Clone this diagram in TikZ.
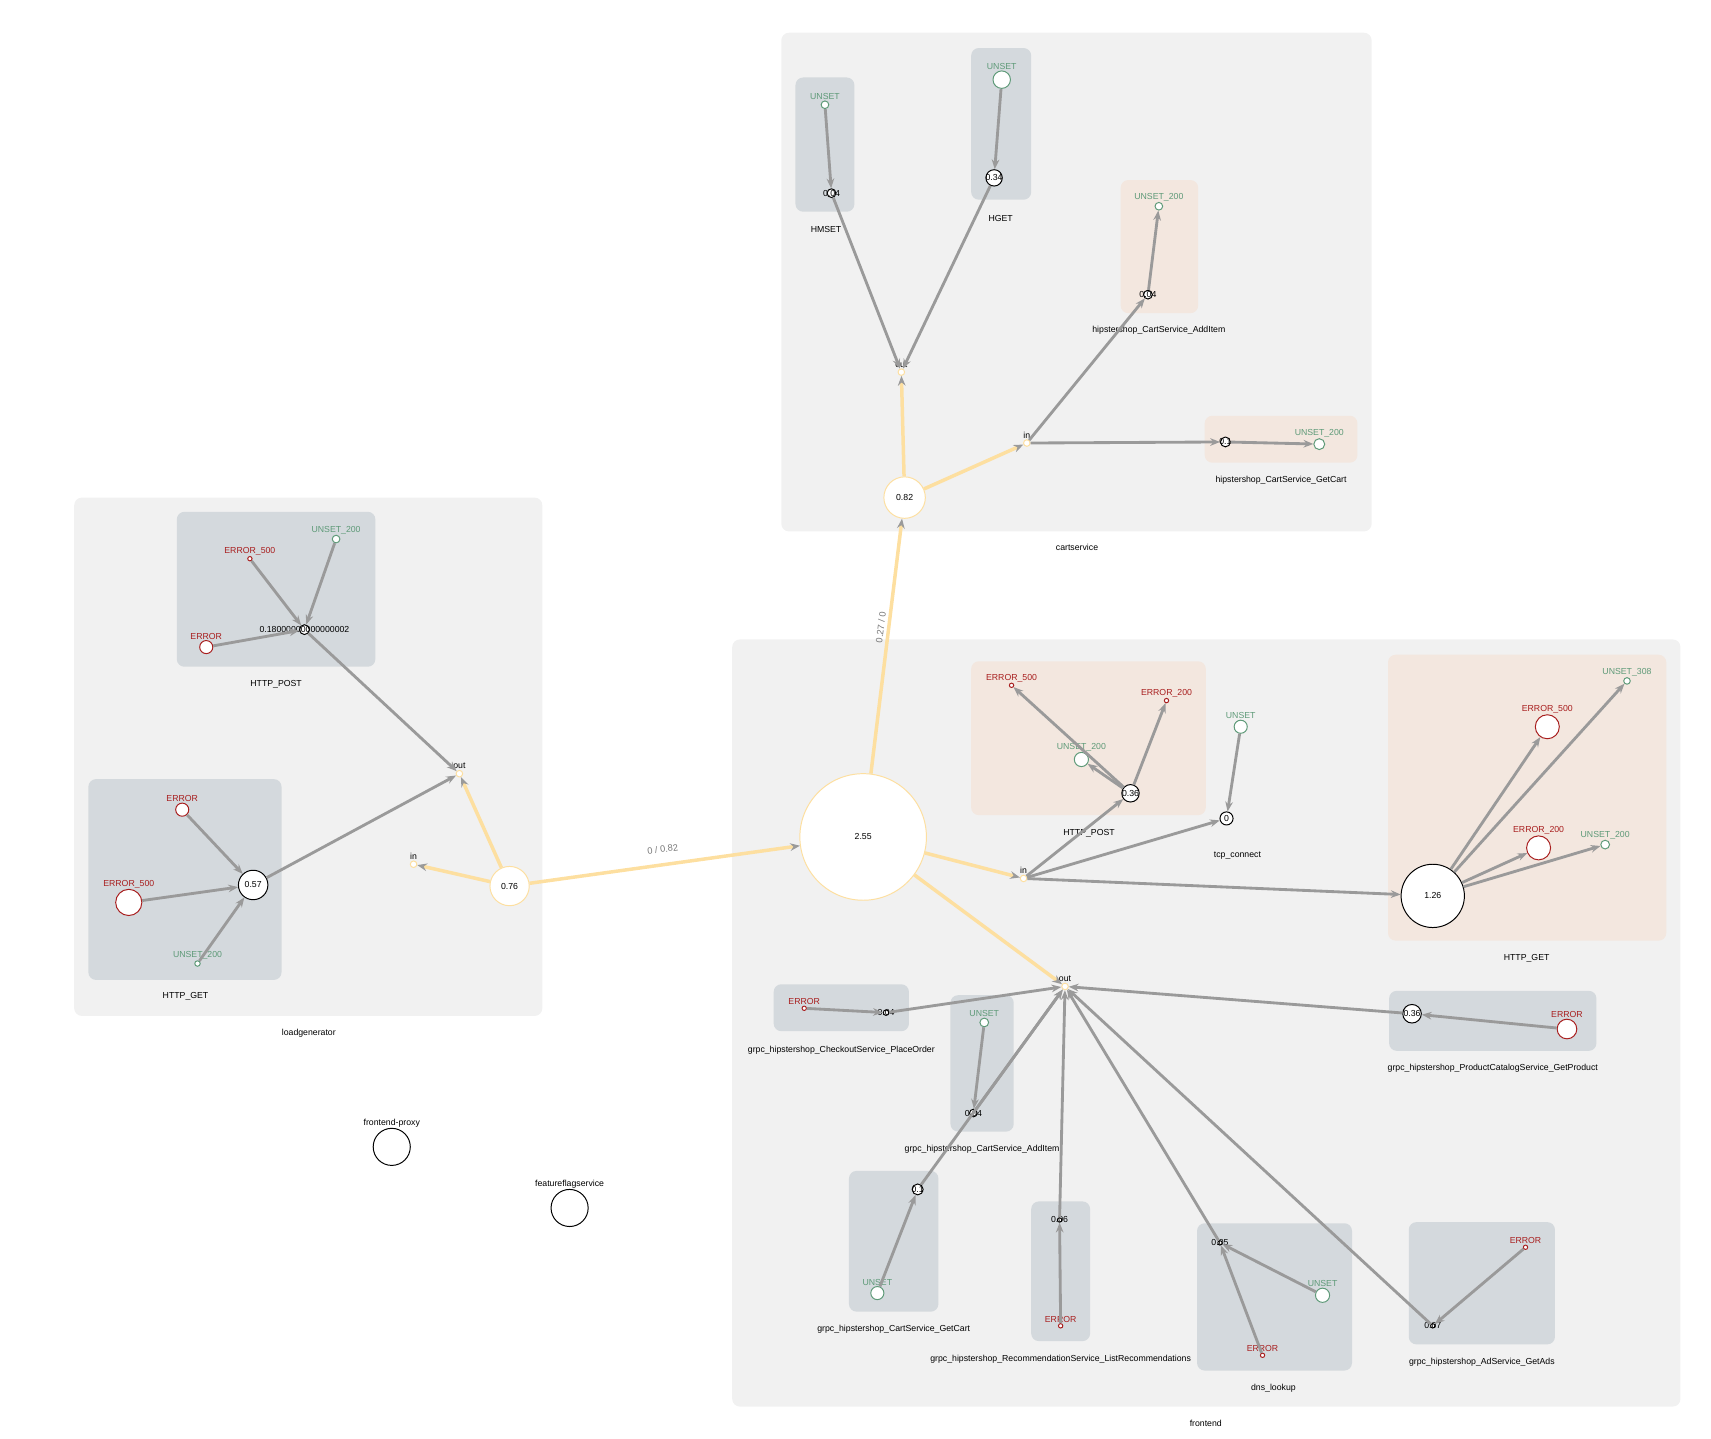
\documentclass[tikz,border=0pt]{standalone}
\usepackage{fontspec}
\setmainfont{Liberation Sans}
\usetikzlibrary{arrows.meta}
\definecolor{grpbg}{HTML}{F1F1F1}
\definecolor{gboxc}{HTML}{D4D9DD}
\definecolor{pboxc}{HTML}{F3E7DF}
\definecolor{edgec}{HTML}{9A9A9A}
\definecolor{ylw}{HTML}{FDDFA0}
\definecolor{okg}{HTML}{5E9A78}
\definecolor{errr}{HTML}{A81E1E}
\definecolor{elbl}{HTML}{777777}
\begin{document}
\begin{tikzpicture}[x=1pt,y=-1pt, font=\fontsize{8}{9.6}\selectfont,
 grp/.style={fill=grpbg, rounded corners=7pt},
 gbx/.style={fill=gboxc, rounded corners=7pt},
 pbx/.style={fill=pboxc, rounded corners=7pt},
 vn/.style={circle, draw=black, fill=white, line width=0.9pt, inner sep=0pt, minimum size=#1},
 okn/.style={circle, draw=okg, fill=white, line width=0.9pt, inner sep=0pt, minimum size=#1},
 ern/.style={circle, draw=errr, fill=white, line width=0.9pt, inner sep=0pt, minimum size=#1},
 prt/.style={circle, draw=ylw, fill=white, line width=0.9pt, inner sep=0pt, minimum size=6pt},
 bign/.style={circle, draw=ylw, fill=white, line width=0.9pt, inner sep=0pt, minimum size=#1},
 lg/.style={text=okg, inner sep=0.6pt},
 lr/.style={text=errr, inner sep=0.6pt},
 lk/.style={text=black, inner sep=0.6pt},
 vt/.style={text=black, inner sep=0pt},
 blbl/.style={text=black, inner sep=0pt},
 ge/.style={draw=edgec, line width=2.6pt, -{Stealth[length=9pt,width=7pt,inset=3pt,color=edgec]}},
 ye/.style={draw=ylw, line width=3.2pt, -{Stealth[length=9pt,width=7pt,inset=3pt,color=edgec]}},
 el/.style={text=elbl, font=\fontsize{8.5}{10}\selectfont, inner sep=1.5pt},
]
\useasboundingbox (0,0) rectangle (1568,1318);

% ---------- group boxes ----------
\path[grp] (716,30) rectangle (1257,487);
\path[grp] (68,456) rectangle (497,931);
\path[grp] (671,586) rectangle (1540,1289);

% cartservice sub boxes
\path[gbx] (729,71) rectangle (783,194);
\path[gbx] (890,44) rectangle (945,183);
\path[pbx] (1027,165) rectangle (1098,287);
\path[pbx] (1104,381) rectangle (1244,424);
% loadgenerator sub boxes
\path[gbx] (162,469) rectangle (344,611);
\path[gbx] (81,714) rectangle (258,898);
% frontend sub boxes
\path[pbx] (890,606) rectangle (1105,747);
\path[pbx] (1272,600) rectangle (1527,862);
\path[gbx] (709,902) rectangle (833,945);
\path[gbx] (871,912) rectangle (929,1037);
\path[gbx] (778,1073) rectangle (860,1202);
\path[gbx] (945,1101) rectangle (999,1229);
\path[gbx] (1097,1121) rectangle (1239,1256);
\path[gbx] (1291,1120) rectangle (1425,1232);
\path[gbx] (1273,908) rectangle (1463,963);

% ---------- box labels ----------
\node[blbl] (tHMSET) at (757,210) {HMSET};
\node[blbl] (tHGET) at (917,200) {HGET};
\node[blbl] (tCAI) at (1062,303) {hipstershop\_CartService\_AddItem};
\node[blbl] (tCGC) at (1174,440) {hipstershop\_CartService\_GetCart};
\node[blbl] (tcart) at (987,502) {cartservice};
\node[blbl] (tLPOST) at (253,627) {HTTP\_POST};
\node[blbl] (tLGET) at (170,913) {HTTP\_GET};
\node[blbl] (tload) at (283,947) {loadgenerator};
\node[blbl] (tFPOST) at (998,764) {HTTP\_POST};
\node[blbl] (tTCP) at (1134,784) {tcp\_connect};
\node[blbl] (tFGET) at (1399,878) {HTTP\_GET};
\node[blbl] (tCO) at (771,962) {grpc\_hipstershop\_CheckoutService\_PlaceOrder};
\node[blbl] (tFAI) at (900,1053) {grpc\_hipstershop\_CartService\_AddItem};
\node[blbl] (tFGC) at (819,1218) {grpc\_hipstershop\_CartService\_GetCart};
\node[blbl] (tREC) at (972,1246) {grpc\_hipstershop\_RecommendationService\_ListRecommendations};
\node[blbl] (tDNS) at (1167,1272) {dns\_lookup};
\node[blbl] (tAD) at (1358,1248) {grpc\_hipstershop\_AdService\_GetAds};
\node[blbl] (tPC) at (1368,979) {grpc\_hipstershop\_ProductCatalogService\_GetProduct};
\node[blbl] (tfront) at (1105,1304) {frontend};

% ---------- cartservice nodes ----------
\node[okn=7pt, label={[lg]above:UNSET}] (cHMu) at (756,96) {};
\node[vn=8pt, label={[vt]center:0.04}] (cHMv) at (762,177) {};
\node[okn=16pt, label={[lg]above:UNSET}] (cHGu) at (918,73) {};
\node[vn=15pt, label={[vt]center:0.34}] (cHGv) at (911,163) {};
\node[okn=7pt, label={[lg]above:UNSET\_200}] (cAIu) at (1062,189) {};
\node[vn=8pt, label={[vt]center:0.04}] (cAIv) at (1052,270) {};
\node[vn=9pt, label={[vt]center:0.1}] (cGCv) at (1123,405) {};
\node[okn=10pt, label={[lg]above:UNSET\_200}] (cGCu) at (1209,407) {};
\node[prt, label={[lk]above:out}] (cout) at (826,341) {};
\node[prt, label={[lk]above:in}] (cin) at (941,406) {};
\node[bign=38pt] (c082) at (829,456) {0.82};

% ---------- loadgenerator nodes ----------
\node[ern=4pt, label={[lr]above:ERROR\_500}] (lPe5) at (229,512) {};
\node[okn=7pt, label={[lg]above:UNSET\_200}] (lPu) at (308,494) {};
\node[ern=12pt, label={[lr]above:ERROR}] (lPe) at (189,593) {};
\node[vn=9pt, label={[vt]center:0.18000000000000002}] (lPv) at (279,577) {};
\node[ern=12pt, label={[lr]above:ERROR}] (lGe) at (167,742) {};
\node[ern=24pt, label={[lr]above:ERROR\_500}] (lGe5) at (118,827) {};
\node[okn=5pt, label={[lg]above:UNSET\_200}] (lGu) at (181,883) {};
\node[vn=27pt] (lGv) at (232,811) {0.57};
\node[prt, label={[lk]above:out}] (lout) at (421,709) {};
\node[prt, label={[lk]above:in}] (lin) at (379,792) {};
\node[bign=36pt] (l076) at (467,812) {0.76};

% ---------- frontend nodes ----------
\node[bign=116pt] (f255) at (791,767) {2.55};
\node[prt, label={[lk]above:in}] (fin) at (938,805) {};
\node[prt, label={[lk]above:out}] (fout) at (976,904) {};
\node[ern=4pt, label={[lr]above:ERROR\_500}] (fPe5) at (927,628) {};
\node[ern=4pt, label={[lr]above:ERROR\_200}] (fPe2) at (1069,642) {};
\node[okn=13pt, label={[lg]above:UNSET\_200}] (fPu) at (991,696) {};
\node[vn=16pt, label={[vt]center:0.36}] (fPv) at (1036,727) {};
\node[okn=12pt, label={[lg]above:UNSET}] (fTu) at (1137,666) {};
\node[vn=12pt] (fTv) at (1124,750) {0};
\node[vn=58pt] (fGv) at (1313,821) {1.26};
\node[ern=22pt, label={[lr]above:ERROR\_500}] (fGe5) at (1418,666) {};
\node[okn=6pt, label={[lg]above:UNSET\_308}] (fGu3) at (1491,624) {};
\node[ern=22pt, label={[lr]above:ERROR\_200}] (fGe2) at (1410,777) {};
\node[okn=8pt, label={[lg]above:UNSET\_200}] (fGu2) at (1471,774) {};
\node[ern=4pt, label={[lr]above:ERROR}] (fCOe) at (737,924) {};
\node[vn=5pt, label={[vt]center:0.04}] (fCOv) at (812,928) {};
\node[okn=8pt, label={[lg]above:UNSET}] (fAIu) at (902,937) {};
\node[vn=7pt, label={[vt]center:0.04}] (fAIv) at (892,1020) {};
\node[vn=10pt, label={[vt]center:0.1}] (fGCv) at (841,1090) {};
\node[okn=12pt, label={[lg]above:UNSET}] (fGCu) at (804,1185) {};
\node[vn=4pt, label={[vt]center:0.06}] (fRv) at (971,1118) {};
\node[ern=4pt, label={[lr]above:ERROR}] (fRe) at (972,1215) {};
\node[vn=4pt, label={[vt]center:0.05}] (fDv) at (1118,1139) {};
\node[okn=13pt, label={[lg]above:UNSET}] (fDu) at (1212,1187) {};
\node[ern=4pt, label={[lr]above:ERROR}] (fDe) at (1157,1242) {};
\node[vn=4pt, label={[vt]center:0.07}] (fAv) at (1313,1215) {};
\node[ern=4pt, label={[lr]above:ERROR}] (fAe) at (1398,1143) {};
\node[vn=17pt, label={[vt]center:0.36}] (fPCv) at (1294,929) {};
\node[ern=18pt, label={[lr]above:ERROR}] (fPCe) at (1436,943) {};

% ---------- standalone services ----------
\node[vn=34pt, label={[lk]above:frontend-proxy}] (fproxy) at (359,1051) {};
\node[vn=34pt, label={[lk]above:featureflagservice}] (ffs) at (522,1107) {};

% ---------- edges: cartservice ----------
\draw[ge] (cHMu) -- (cHMv);
\draw[ge] (cHGu) -- (cHGv);
\draw[ge] (cHMv) -- (cout);
\draw[ge] (cHGv) -- (cout);
\draw[ye] (c082) -- (cout);
\draw[ye] (c082) -- (cin);
\draw[ge] (cin) -- (cAIv);
\draw[ge] (cAIv) -- (cAIu);
\draw[ge] (cin) -- (cGCv);
\draw[ge] (cGCv) -- (cGCu);

% ---------- edges: loadgenerator ----------
\draw[ge] (lPe5) -- (lPv);
\draw[ge] (lPu) -- (lPv);
\draw[ge] (lPe) -- (lPv);
\draw[ge] (lPv) -- (lout);
\draw[ge] (lGe) -- (lGv);
\draw[ge] (lGe5) -- (lGv);
\draw[ge] (lGu) -- (lGv);
\draw[ge] (lGv) -- (lout);
\draw[ye] (l076) -- (lout);
\draw[ye] (l076) -- (lin);

% ---------- edges: between services ----------
\draw[ye] (l076) -- node[el, pos=0.5, above=8pt, sloped] {0 / 0.82} (f255);
\draw[ye] (f255) -- node[el, pos=0.57, above=1pt, sloped] {0.27 / 0} (c082);

% ---------- edges: frontend ----------
\draw[ye] (f255) -- (fin);
\draw[ye] (f255) -- (fout);
\draw[ge] (fin) -- (fPv);
\draw[ge] (fPv) -- (fPe5);
\draw[ge] (fPv) -- (fPe2);
\draw[ge] (fPv) -- (fPu);
\draw[ge] (fTu) -- (fTv);
\draw[ge] (fin) -- (fTv);
\draw[ge] (fin) -- (fGv);
\draw[ge] (fGv) -- (fGe5);
\draw[ge] (fGv) -- (fGu3);
\draw[ge] (fGv) -- (fGe2);
\draw[ge] (fGv) -- (fGu2);
\draw[ge] (fCOe) -- (fCOv);
\draw[ge] (fCOv) -- (fout);
\draw[ge] (fAIu) -- (fAIv);
\draw[ge] (fAIv) -- (fout);
\draw[ge] (fGCu) -- (fGCv);
\draw[ge] (fGCv) -- (fout);
\draw[ge] (fRe) -- (fRv);
\draw[ge] (fRv) -- (fout);
\draw[ge] (fDu) -- (fDv);
\draw[ge] (fDe) -- (fDv);
\draw[ge] (fDv) -- (fout);
\draw[ge] (fAe) -- (fAv);
\draw[ge] (fAv) -- (fout);
\draw[ge] (fPCe) -- (fPCv);
\draw[ge] (fPCv) -- (fout);
\end{tikzpicture}
\end{document}
